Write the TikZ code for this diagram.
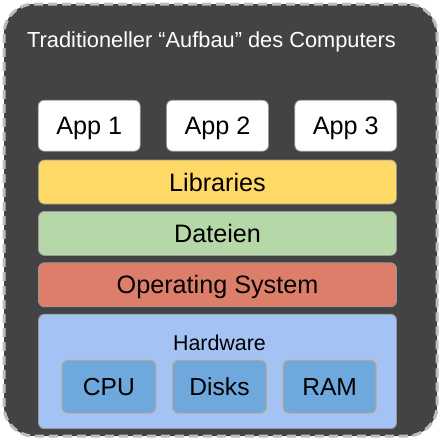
\documentclass[tikz,border=0pt]{standalone}
\usepackage{fontspec}
\setmainfont{Liberation Sans}
\usetikzlibrary{positioning}

\definecolor{frameFill}{HTML}{434343}
\definecolor{frameDash}{HTML}{BDBDBD}
\definecolor{libFill}{HTML}{FFD966}
\definecolor{fileFill}{HTML}{B6D7A8}
\definecolor{osFill}{HTML}{DD7E6B}
\definecolor{hwFill}{HTML}{A4C2F4}
\definecolor{partFill}{HTML}{6FA8DC}
\definecolor{partEdge}{HTML}{C9A97A}

\begin{document}
\begin{tikzpicture}[x=1pt,y=-1pt,node distance=6.6pt,
  layer/.style={rectangle,rounded corners=6pt,draw=gray!80,line width=0.8pt,
    minimum width=358pt,minimum height=44pt,inner sep=0pt,
    text height=18pt,text depth=0pt,font=\fontsize{25.2}{27}\selectfont},
  app/.style={layer,fill=white,minimum width=102pt,minimum height=51pt},
  part/.style={layer,fill=partFill,draw=partEdge,minimum width=94pt,
    minimum height=53pt,text height=17.5pt,font=\fontsize{24.6}{27}\selectfont}]

  \useasboundingbox (0,0) rectangle (443,442);

  % outer frame with title
  \node[rectangle,rounded corners=30pt,fill=frameFill,draw=frameDash,
    line width=3pt,dash pattern=on 9pt off 5pt,
    minimum width=433pt,minimum height=432pt] (frame) at (220.5,220) {};
  \node[anchor=base west,inner sep=0pt,text=white,
    font=\fontsize{21.8}{24}\selectfont] (title) at (27,47)
    {Traditioneller “Aufbau” des Computers};

  % software layers
  \node[layer,fill=libFill] (libs) at (217.5,182) {Libraries};
  \node[layer,fill=fileFill] (files) [below=of libs] {Dateien};
  \node[layer,fill=osFill] (os) [below=of files] {Operating System};
  \node[layer,fill=hwFill,minimum height=114.5pt] (hw) [below=of os] {};

  \node[app] (app2) [above=8pt of libs] {App 2};
  \node[app] (app1) [left=25.5pt of app2] {App 1};
  \node[app] (app3) [right=25.5pt of app2] {App 3};

  % hardware parts
  \node[anchor=base,inner sep=0pt,font=\fontsize{21.4}{24}\selectfont]
    (hwlabel) at (219.5,350) {Hardware};
  \node[part] (disks) at (219.5,386.7) {Disks};
  \node[part] (cpu) [left=15.8pt of disks] {CPU};
  \node[part,minimum width=93pt] (ram) [right=15.8pt of disks] {RAM};
\end{tikzpicture}
\end{document}
